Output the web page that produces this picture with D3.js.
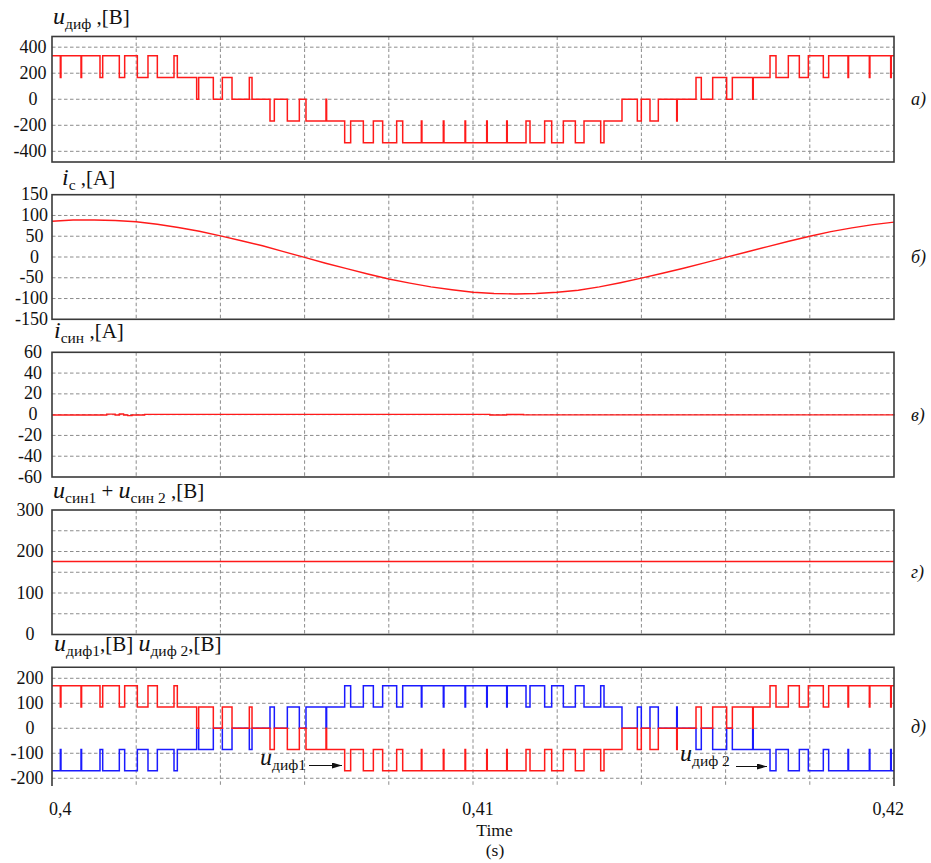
<!DOCTYPE html>
<html>
<head>
<meta charset="utf-8">
<script src="https://cdn.jsdelivr.net/npm/d3@7"></script>
<style>
  html, body { margin: 0; padding: 0; background: #fff; }
  svg text { font-family: "Liberation Serif", "Times New Roman", "DejaVu Serif", serif; }
</style>
</head>
<body>
<svg id="chart" width="931" height="863" font-family="Liberation Serif, Times New Roman, serif"></svg>
<script>
// ---- time axis ----
const timeDomain = [0.4, 0.42];
const timeGrid = [0.402, 0.404, 0.406, 0.408, 0.41, 0.412, 0.414, 0.416, 0.418];
const timeTicks = [0.4, 0.41, 0.42];
const timeTickLabels = ["0,4", "0,41", "0,42"];

// ---- switching instants of the bridge voltages (s) and level held from each instant ----
const switchTimes = [
  0.400000, 0.400198, 0.400213, 0.400689, 0.400703, 0.401140, 0.401204, 0.401599, 0.401726,
  0.402027, 0.402280, 0.402502, 0.402898, 0.402977, 0.403436, 0.403484, 0.403832, 0.404046,
  0.404276, 0.404687, 0.404751, 0.405178, 0.405281, 0.405590, 0.405875, 0.406033, 0.406508,
  0.406523, 0.406952, 0.407094, 0.407395, 0.407633, 0.407854, 0.408187, 0.408330, 0.408773,
  0.408787, 0.409295, 0.409310, 0.409810, 0.409824, 0.410325, 0.410339, 0.410800, 0.410814,
  0.411259, 0.411354, 0.411702, 0.411869, 0.412146, 0.412431, 0.412637, 0.413033, 0.413112,
  0.413539, 0.413903, 0.413998, 0.414204, 0.414402, 0.414838, 0.414852, 0.415297, 0.415423,
  0.415693, 0.416025, 0.416160, 0.416643, 0.416657, 0.417055, 0.417197, 0.417490, 0.417751,
  0.417965, 0.418321, 0.418448, 0.418907, 0.418921, 0.419414, 0.419428, 0.419921, 0.419935,
  0.420000
];
// index into the level tables below (0 = most negative ... 4 = most positive)
const switchLevel = [
  4, 3, 4, 3, 4, 3, 4, 3, 4,
  3, 4, 3, 4, 3, 2, 3, 2, 3,
  2, 3, 2, 1, 2, 1, 2, 1, 2,
  1, 0, 1, 0, 1, 0, 1, 0, 1,
  0, 1, 0, 1, 0, 1, 0, 1, 0,
  1, 0, 1, 0, 1, 0, 1, 0, 1,
  2, 1, 2, 1, 2, 1, 2, 3, 2,
  3, 2, 3, 2, 3, 4, 3, 4, 3,
  4, 3, 4, 3, 4, 3, 4, 3, 4,
  4
];
const levelsDiff  = [-335, -168, 0, 168, 335];   // u_диф, V
const levelsDiff1 = [-170, -85, 0, 85, 170];     // u_диф1, V
const levelsDiff2 = [170, 85, 0, -85, -170];     // u_диф2, V

// ---- filter current i_c (A) ----
const icTime = [
  0.4000, 0.4005, 0.4010, 0.4015, 0.4020, 0.4025, 0.4030, 0.4035, 0.4040, 0.4045,
  0.4050, 0.4055, 0.4060, 0.4065, 0.4070, 0.4075, 0.4080, 0.4085, 0.4090, 0.4095,
  0.4100, 0.4105, 0.4110, 0.4115, 0.4120, 0.4125, 0.4130, 0.4135, 0.4140, 0.4145,
  0.4150, 0.4155, 0.4160, 0.4165, 0.4170, 0.4175, 0.4180, 0.4185, 0.4190, 0.4195,
  0.4200
];
const icValue = [
  86, 89, 89, 88, 85, 79, 71, 62, 51, 39,
  27, 13, -1, -15, -28, -41, -53, -63, -72, -79,
  -85, -88, -89, -88, -85, -80, -72, -62, -51, -39,
  -27, -14, -1, 12, 25, 38, 50, 61, 70, 78,
  84
];

// ---- synchronous-path current i_син (A) ----
const isynTime  = [0.4000, 0.4013, 0.4015, 0.4016, 0.4017, 0.4018, 0.4019, 0.4022, 0.4100, 0.4104, 0.4108, 0.4112, 0.4200];
const isynValue = [-0.4, 0.5, -0.4, 0.6, -0.4, -0.9, -0.3, 0.3, 0.3, -0.3, 0.2, -0.2, 0.3];

// ---- u_син1 + u_син2 (V) ----
const usynTime  = [0.4000, 0.4200];
const usynValue = [176, 176];

// ---- layout ----
const svg = d3.select("#chart");
const x = d3.scaleLinear().domain(timeDomain).range([52, 894]);

const panels = [
  { key: "a", domain: [-482, 482], range: [162, 36.5], ticks: [400, 200, 0, -200, -400],
    labels: [400, 200, 0, -200, -400], cx: 33, tag: "а)", frame: "full" },
  { key: "b", domain: [-150, 150], range: [319.3, 194.7], ticks: [100, 50, 0, -50, -100],
    labels: [150, 100, 50, 0, -50, -100, -150], cx: 34.5, tag: "б)", frame: "full" },
  { key: "c", domain: [-60, 60], range: [477, 352.3], ticks: [40, 20, 0, -20, -40],
    labels: [60, 40, 20, 0, -20, -40, -60], cx: 33, tag: "в)", frame: "full" },
  { key: "d", domain: [0, 300], range: [634.5, 510], ticks: [50, 100, 150, 200, 250],
    labels: [300, 200, 100, 0], cx: 30, tag: "г)", frame: "full" },
  { key: "e", domain: [-231, 244], range: [786, 667.3], ticks: [200, 100, 0, -100, -200],
    labels: [200, 100, 0, -100, -200], cx: 30, tag: "д)", frame: "open" }
];

const gridColor = "#8c8c8c";
const frameColor = "#3a3a3a";
const labelSize = 18;

panels.forEach(p => {
  p.y = d3.scaleLinear().domain(p.domain).range(p.range);
  const g = svg.append("g").attr("class", "panel-" + p.key);
  const top = p.range[1], bottom = p.range[0];

  // dashed grid
  g.selectAll("line.hgrid").data(p.ticks).join("line")
    .attr("x1", x.range()[0]).attr("x2", x.range()[1])
    .attr("y1", d => p.y(d)).attr("y2", d => p.y(d))
    .attr("stroke", gridColor).attr("stroke-width", 1).attr("stroke-dasharray", "3.5,2.5");
  g.selectAll("line.vgrid").data(timeGrid).join("line")
    .attr("x1", d => x(d)).attr("x2", d => x(d))
    .attr("y1", top).attr("y2", bottom)
    .attr("stroke", gridColor).attr("stroke-width", 1).attr("stroke-dasharray", "3.5,2.5");

  // y tick labels: digits centred, minus sign hanging to the left
  p.labels.forEach(v => {
    const yy = p.y(v) + 5.5;
    const t = g.append("text").attr("x", p.cx).attr("y", yy)
      .attr("text-anchor", "middle").attr("font-size", labelSize).attr("fill", "#111")
      .text(Math.abs(v));
    if (v < 0) {
      const w = t.node().getComputedTextLength();
      g.append("text").attr("x", p.cx - w / 2).attr("y", yy)
        .attr("text-anchor", "end").attr("font-size", labelSize).attr("fill", "#111").text("-");
    }
  });

  // panel tag on the right
  g.append("text").attr("x", 911).attr("y", (top + bottom) / 2 + 6)
    .attr("font-size", 18).attr("font-style", "italic").attr("fill", "#111").text(p.tag);
});

// ---- traces ----
const stepLine = (yScale, levels) => d3.line()
  .x(d => x(d[0])).y(d => yScale(levels[d[1]]))
  .curve(d3.curveStepAfter);
const pwmPoints = switchTimes.map((t, i) => [t, switchLevel[i]]);

const pa = panels[0], pb = panels[1], pc = panels[2], pd = panels[3], pe = panels[4];

svg.append("path").datum(pwmPoints)
  .attr("d", stepLine(pa.y, levelsDiff))
  .attr("fill", "none").attr("stroke", "#ff1a1a").attr("stroke-width", 1.5);

const smooth = (yScale) => d3.line().x(d => x(d[0])).y(d => yScale(d[1]));

svg.append("path").datum(icTime.map((t, i) => [t, icValue[i]]))
  .attr("d", smooth(pb.y)).attr("fill", "none").attr("stroke", "#ff1a1a").attr("stroke-width", 1.4);

svg.append("path").datum(isynTime.map((t, i) => [t, isynValue[i]]))
  .attr("d", d3.line().x(d => x(d[0])).y(d => pc.y(d[1])).curve(d3.curveStepAfter))
  .attr("fill", "none").attr("stroke", "#ff1a1a").attr("stroke-width", 1.4);

svg.append("path").datum(usynTime.map((t, i) => [t, usynValue[i]]))
  .attr("d", smooth(pd.y)).attr("fill", "none").attr("stroke", "#ff1a1a").attr("stroke-width", 1.4);

svg.append("path").datum(pwmPoints)
  .attr("d", stepLine(pe.y, levelsDiff2))
  .attr("fill", "none").attr("stroke", "#1a1aff").attr("stroke-width", 1.5);
svg.append("path").datum(pwmPoints)
  .attr("d", stepLine(pe.y, levelsDiff1))
  .attr("fill", "none").attr("stroke", "#ff1a1a").attr("stroke-width", 1.5);

// ---- frames ----
panels.forEach(p => {
  const top = p.range[1], bottom = p.range[0];
  const [l, r] = x.range();
  if (p.frame === "full") {
    svg.append("rect").attr("x", l).attr("y", top).attr("width", r - l).attr("height", bottom - top)
      .attr("fill", "none").attr("stroke", frameColor).attr("stroke-width", 1.6);
  } else {
    svg.append("path").attr("d", `M${l},${bottom}V${top}H${r}V${bottom}`)
      .attr("fill", "none").attr("stroke", frameColor).attr("stroke-width", 1.6);
  }
});

// ---- panel titles ----
function title(px, py, parts) {
  const t = svg.append("text").attr("x", px).attr("y", py).attr("fill", "#111");
  let shift = 0;
  parts.forEach(pt => {
    const dy = (pt.sub ? 5 : 0) - shift;
    shift = pt.sub ? 5 : 0;
    t.append("tspan").attr("dy", dy)
      .attr("font-size", pt.sub ? 15.5 : (pt.it ? 24 : 21))
      .attr("font-style", pt.it ? "italic" : "normal")
      .text(pt.t);
  });
  return t;
}
title(53, 24, [{ t: "u", it: true }, { t: "диф", sub: true }, { t: " ,[В]" }]);
title(62, 185, [{ t: "i", it: true }, { t: "с", sub: true }, { t: " ,[А]" }]);
title(54, 338, [{ t: "i", it: true }, { t: "син", sub: true }, { t: " ,[А]" }]);
title(53, 498, [{ t: "u", it: true }, { t: "син1", sub: true }, { t: " + " }, { t: "u", it: true },
  { t: "син 2", sub: true }, { t: " ,[В]" }]);
title(54, 651, [{ t: "u", it: true }, { t: "диф1", sub: true }, { t: ",[В] " }, { t: "u", it: true },
  { t: "диф 2", sub: true }, { t: ",[В]" }]);

// ---- trace annotations with arrows ----
const defs = svg.append("defs");
defs.append("marker").attr("id", "arrowhead").attr("viewBox", "0 0 10 6")
  .attr("refX", 10).attr("refY", 3).attr("markerWidth", 10).attr("markerHeight", 6)
  .attr("markerUnits", "userSpaceOnUse").attr("orient", "auto")
  .append("path").attr("d", "M0,0L10,3L0,6Z").attr("fill", "#111");

title(260, 765, [{ t: "u", it: true }, { t: "диф1", sub: true }]);
svg.append("line").attr("x1", 309).attr("y1", 765.5).attr("x2", 342).attr("y2", 765.5)
  .attr("stroke", "#111").attr("stroke-width", 1).attr("marker-end", "url(#arrowhead)");
title(680, 761, [{ t: "u", it: true }, { t: "диф 2", sub: true }]);
svg.append("line").attr("x1", 736).attr("y1", 766.5).attr("x2", 767).attr("y2", 766.5)
  .attr("stroke", "#111").attr("stroke-width", 1).attr("marker-end", "url(#arrowhead)");

// ---- time axis labels ----
const anchors = ["start", "middle", "end"];
const offsets = [-3, 5, 10];
timeTicks.forEach((t, i) => {
  svg.append("text").attr("x", x(t) + offsets[i]).attr("y", 815)
    .attr("text-anchor", anchors[i]).attr("font-size", 18).attr("fill", "#111")
    .text(timeTickLabels[i]);
});
svg.append("text").attr("x", 494.5).attr("y", 836).attr("text-anchor", "middle")
  .attr("font-size", 17.5).attr("fill", "#111").text("Time");
svg.append("text").attr("x", 495).attr("y", 856).attr("text-anchor", "middle")
  .attr("font-size", 17.5).attr("fill", "#111").text("(s)");
</script>
</body>
</html>
